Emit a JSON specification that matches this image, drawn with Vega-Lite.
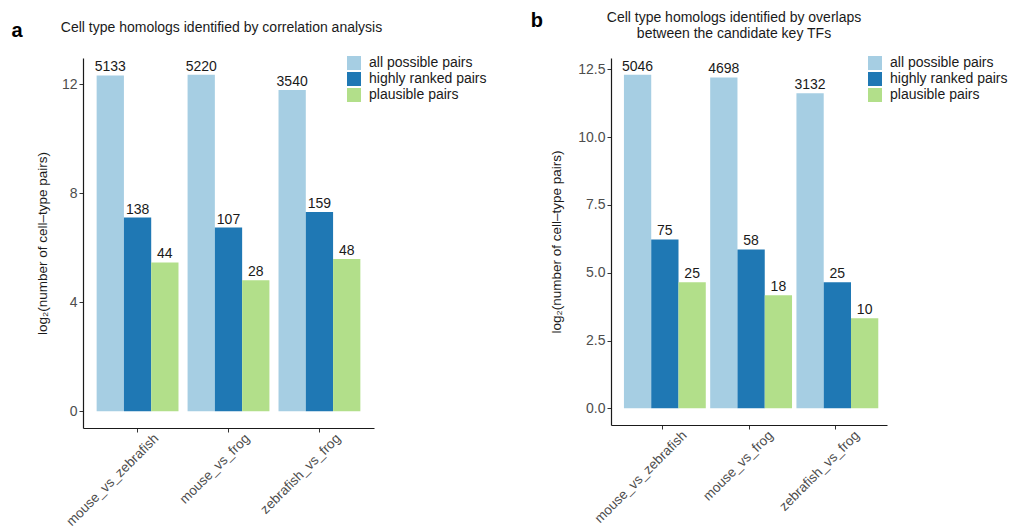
{
  "$schema": "https://vega.github.io/schema/vega-lite/v6.json",
  "autosize": {"type": "pad"},
  "padding": {"left": 11, "top": 11, "right": 0, "bottom": 0},
  "background": "white",
  "config": {
    "font": "Liberation Sans",
    "view": {"stroke": null},
    "title": {"fontWeight": "normal", "color": "#1a1a1a"},
    "axis": {
      "grid": false,
      "domainColor": "#1a1a1a",
      "domainWidth": 1.2,
      "tickColor": "#333333",
      "tickSize": 4,
      "labelFontSize": 14,
      "labelColor": "#4d4d4d",
      "titleFontSize": 13.5,
      "titleFontWeight": "normal",
      "titleColor": "#1a1a1a"
    },
    "legend": {
      "labelFontSize": 14,
      "labelColor": "#1a1a1a",
      "symbolType": "square",
      "symbolSize": 196,
      "symbolStrokeWidth": 0,
      "labelOffset": 8,
      "rowPadding": 2
    }
  },
  "datasets": {
    "a": [
      {"comparison": "mouse_vs_zebrafish", "type": "all possible pairs", "count": 5133, "log2": 12.3256},
      {"comparison": "mouse_vs_zebrafish", "type": "highly ranked pairs", "count": 138, "log2": 7.1085},
      {"comparison": "mouse_vs_zebrafish", "type": "plausible pairs", "count": 44, "log2": 5.4594},
      {"comparison": "mouse_vs_frog", "type": "all possible pairs", "count": 5220, "log2": 12.3499},
      {"comparison": "mouse_vs_frog", "type": "highly ranked pairs", "count": 107, "log2": 6.7415},
      {"comparison": "mouse_vs_frog", "type": "plausible pairs", "count": 28, "log2": 4.8074},
      {"comparison": "zebrafish_vs_frog", "type": "all possible pairs", "count": 3540, "log2": 11.7895},
      {"comparison": "zebrafish_vs_frog", "type": "highly ranked pairs", "count": 159, "log2": 7.3129},
      {"comparison": "zebrafish_vs_frog", "type": "plausible pairs", "count": 48, "log2": 5.585}
    ],
    "b": [
      {"comparison": "mouse_vs_zebrafish", "type": "all possible pairs", "count": 5046, "log2": 12.3009},
      {"comparison": "mouse_vs_zebrafish", "type": "highly ranked pairs", "count": 75, "log2": 6.2288},
      {"comparison": "mouse_vs_zebrafish", "type": "plausible pairs", "count": 25, "log2": 4.6439},
      {"comparison": "mouse_vs_frog", "type": "all possible pairs", "count": 4698, "log2": 12.1978},
      {"comparison": "mouse_vs_frog", "type": "highly ranked pairs", "count": 58, "log2": 5.858},
      {"comparison": "mouse_vs_frog", "type": "plausible pairs", "count": 18, "log2": 4.1699},
      {"comparison": "zebrafish_vs_frog", "type": "all possible pairs", "count": 3132, "log2": 11.6129},
      {"comparison": "zebrafish_vs_frog", "type": "highly ranked pairs", "count": 25, "log2": 4.6439},
      {"comparison": "zebrafish_vs_frog", "type": "plausible pairs", "count": 10, "log2": 3.3219}
    ]
  },
  "resolve": {"scale": {"color": "independent", "y": "independent", "x": "independent"}, "legend": {"color": "independent"}},
  "spacing": 43,
  "hconcat": [
    {
      "title": {"text": "a", "anchor": "start", "frame": "bounds", "fontSize": 20, "fontWeight": "bold", "color": "#000000", "dx": -24, "dy": 24},
      "hconcat": [
        {
          "title": {"text": "Cell type homologs identified by correlation analysis", "fontSize": 14, "dx": -7, "offset": 23},
          "width": 291,
          "height": 370,
          "data": {"name": "a"},
          "encoding": {
            "x": {"field": "comparison", "type": "nominal", "sort": ["mouse_vs_zebrafish", "mouse_vs_frog", "zebrafish_vs_frog"], "scale": {"paddingInner": 0.1, "paddingOuter": 0.15}, "axis": {"title": null, "labelAngle": -45, "labelAlign": "right", "labelBaseline": "top", "labelOffset": 14, "labelPadding": -1, "labelFontSize": 13.5}},
            "xOffset": {"field": "type", "type": "nominal", "sort": ["all possible pairs", "highly ranked pairs", "plausible pairs"], "scale": {"paddingInner": 0, "paddingOuter": 0}},
            "y": {"field": "log2", "type": "quantitative", "scale": {"domain": [-0.6175, 12.9674], "nice": false, "zero": false}, "axis": {"title": "log₂(number of cell–type pairs)", "values": [0, 4, 8, 12], "labelPadding": 2, "titlePadding": 12}}
          },
          "layer": [
            {
              "mark": {"type": "bar"},
              "encoding": {
                "y2": {"datum": 0},
                "color": {"field": "type", "type": "nominal", "sort": ["all possible pairs", "highly ranked pairs", "plausible pairs"], "scale": {"domain": ["all possible pairs", "highly ranked pairs", "plausible pairs"], "range": ["#a6cee3", "#1f78b4", "#b2df8a"]}, "legend": {"title": null, "orient": "none", "legendX": 264, "legendY": -2}}
              }
            },
            {
              "mark": {"type": "text", "baseline": "bottom", "dy": -1, "fontSize": 14, "color": "#1a1a1a"},
              "encoding": {"text": {"field": "count", "type": "quantitative"}}
            }
          ]
        }
      ]
    },
    {
      "title": {"text": "b", "anchor": "start", "frame": "bounds", "fontSize": 20, "fontWeight": "bold", "color": "#000000", "dx": -19, "dy": 24},
      "hconcat": [
        {
          "title": {"text": ["Cell type homologs identified by overlaps", "between the candidate key TFs"], "fontSize": 14, "lineHeight": 16, "dx": -15, "offset": 17},
          "width": 276,
          "height": 367,
          "data": {"name": "b"},
          "encoding": {
            "x": {"field": "comparison", "type": "nominal", "sort": ["mouse_vs_zebrafish", "mouse_vs_frog", "zebrafish_vs_frog"], "scale": {"paddingInner": 0.1, "paddingOuter": 0.15}, "axis": {"title": null, "labelAngle": -45, "labelAlign": "right", "labelBaseline": "top", "labelOffset": 17, "labelPadding": -1, "labelFontSize": 13.5}},
            "xOffset": {"field": "type", "type": "nominal", "sort": ["all possible pairs", "highly ranked pairs", "plausible pairs"], "scale": {"paddingInner": 0, "paddingOuter": 0}},
            "y": {"field": "log2", "type": "quantitative", "scale": {"domain": [-0.615, 12.916], "nice": false, "zero": false}, "axis": {"title": "log₂(number of cell–type pairs)", "values": [0, 2.5, 5, 7.5, 10, 12.5], "format": ".1f", "labelPadding": 2, "titlePadding": 14}}
          },
          "layer": [
            {
              "mark": {"type": "bar"},
              "encoding": {
                "y2": {"datum": 0},
                "color": {"field": "type", "type": "nominal", "sort": ["all possible pairs", "highly ranked pairs", "plausible pairs"], "scale": {"domain": ["all possible pairs", "highly ranked pairs", "plausible pairs"], "range": ["#a6cee3", "#1f78b4", "#b2df8a"]}, "legend": {"title": null, "orient": "none", "legendX": 257, "legendY": -2}}
              }
            },
            {
              "mark": {"type": "text", "baseline": "bottom", "dy": -1, "fontSize": 14, "color": "#1a1a1a"},
              "encoding": {"text": {"field": "count", "type": "quantitative"}}
            }
          ]
        }
      ]
    }
  ]
}
